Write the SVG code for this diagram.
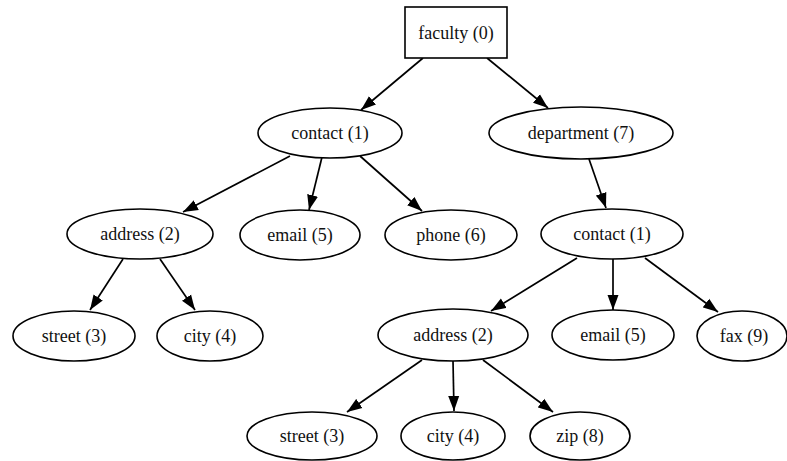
<svg xmlns="http://www.w3.org/2000/svg" width="787" height="461" viewBox="0 0 787 461">
<defs>
<marker id="arr" markerUnits="userSpaceOnUse" markerWidth="16" markerHeight="12" refX="15" refY="6" orient="auto">
<path d="M0,0.5 L15,6 L0,11.5 z" fill="#000"/>
</marker>
<style>
.n ellipse, .n rect { fill: #fff; stroke: #000; stroke-width: 1.6; }
.n text { font-family: "Liberation Serif", "Times New Roman", serif; font-size: 18px; fill: #111; text-anchor: middle; }
#edges line { stroke: #000; stroke-width: 1.7; marker-end: url(#arr); }
</style>
</defs>
<rect width="787" height="461" fill="#fff"/>
<g id="edges">
<line x1="423" y1="58" x2="361" y2="110"/>
<line x1="487" y1="58" x2="548" y2="108"/>
<line x1="290" y1="156" x2="183" y2="212"/>
<line x1="322" y1="157" x2="309" y2="210"/>
<line x1="360" y1="156" x2="422" y2="211"/>
<line x1="589" y1="159" x2="606" y2="208"/>
<line x1="123" y1="259" x2="90" y2="310"/>
<line x1="160" y1="259" x2="195" y2="310"/>
<line x1="577" y1="258" x2="491" y2="311"/>
<line x1="613" y1="259" x2="613" y2="310"/>
<line x1="645" y1="258" x2="718" y2="312"/>
<line x1="422" y1="360" x2="347" y2="412"/>
<line x1="453" y1="361" x2="454" y2="411"/>
<line x1="483" y1="360" x2="553" y2="412"/>
</g>
<g id="faculty0" class="n"><rect x="405" y="7" width="102" height="51"/><text x="456" y="39">faculty (0)</text></g>
<g id="contact1" class="n"><ellipse cx="330" cy="133" rx="72" ry="25"/><text x="330" y="139">contact (1)</text></g>
<g id="department7" class="n"><ellipse cx="581" cy="133" rx="92" ry="26"/><text x="581" y="139">department (7)</text></g>
<g id="address2" class="n"><ellipse cx="140" cy="234" rx="73" ry="25"/><text x="140" y="240">address (2)</text></g>
<g id="email5" class="n"><ellipse cx="300" cy="235" rx="60" ry="25"/><text x="300" y="241">email (5)</text></g>
<g id="phone6" class="n"><ellipse cx="451" cy="235" rx="66" ry="25"/><text x="451" y="241">phone (6)</text></g>
<g id="contact1b" class="n"><ellipse cx="612" cy="234" rx="71" ry="25"/><text x="612" y="240">contact (1)</text></g>
<g id="street3" class="n"><ellipse cx="74" cy="336" rx="61" ry="25"/><text x="74" y="342">street (3)</text></g>
<g id="city4" class="n"><ellipse cx="210" cy="336" rx="53" ry="25"/><text x="210" y="342">city (4)</text></g>
<g id="address2b" class="n"><ellipse cx="453" cy="335" rx="75" ry="26"/><text x="453" y="341">address (2)</text></g>
<g id="email5b" class="n"><ellipse cx="613" cy="335" rx="61" ry="25"/><text x="613" y="341">email (5)</text></g>
<g id="fax9" class="n"><ellipse cx="742" cy="336" rx="45" ry="25"/><text x="744" y="342">fax (9)</text></g>
<g id="street3b" class="n"><ellipse cx="312" cy="436" rx="65" ry="24"/><text x="312" y="442">street (3)</text></g>
<g id="city4b" class="n"><ellipse cx="453" cy="436" rx="52" ry="24"/><text x="453" y="442">city (4)</text></g>
<g id="zip8" class="n"><ellipse cx="580" cy="436" rx="50" ry="24"/><text x="580" y="442">zip (8)</text></g>
</svg>
